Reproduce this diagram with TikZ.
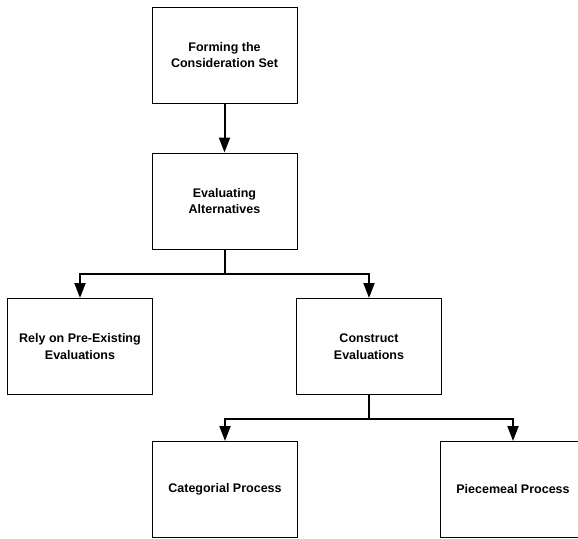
\documentclass[tikz,border=0pt]{standalone}
\usepackage{fontspec}
\setmainfont{Liberation Sans}
\usetikzlibrary{arrows.meta}
\tikzset{
  box/.style={draw, line width=1pt, minimum width=145pt, minimum height=96pt,
    inner sep=0pt, align=center, font=\fontsize{12.5}{16.5}\selectfont\bfseries},
  flow/.style={line width=2pt, -{Triangle[length=15pt,width=11pt]}}
}
\begin{document}
\begin{tikzpicture}[x=1pt,y=-1pt]
      \useasboundingbox (0,0) rectangle (578,538);
      \draw
        (224.5,55) node[box] (form){Forming the\\Consideration Set}
        (224.5,201) node[box] (eval){Evaluating\\Alternatives}
        (80,346.5) node[box] (rely){Rely on Pre-Existing\\Evaluations}
        (369,346.5) node[box] (cons){Construct\\Evaluations}
        (225,489.5) node[box] (cat){Categorial Process}
        (513,489.5) node[box] (piece){Piecemeal Process};
      \begin{scope}[flow]
        \draw (form) to (eval);
        \draw (eval.south) -- ++(0,24.5) -| (rely.north);
        \draw (eval.south) -- ++(0,24.5) -| (cons.north);
        \draw (cons.south) -- ++(0,23.5) -| (cat.north);
        \draw (cons.south) -- ++(0,23.5) -| (piece.north);
      \end{scope}
    \end{tikzpicture}
\end{document}
